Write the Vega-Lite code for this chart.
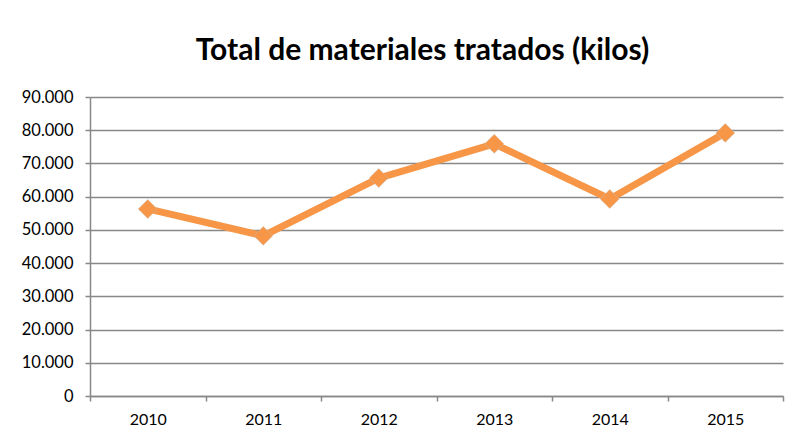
{
  "$schema": "https://vega.github.io/schema/vega-lite/v6.json",
  "width": 693,
  "height": 299,
  "autosize": {"type": "none"},
  "padding": {"left": 90, "top": 97, "right": 13, "bottom": 41},
  "background": "white",
  "config": {
    "locale": {"number": {"decimal": ",", "thousands": ".", "grouping": [3], "currency": ["", " €"]}},
    "view": {"stroke": null},
    "font": "Lato"
  },
  "title": {
    "text": "Total de materiales tratados (kilos)",
    "font": "Lato",
    "fontSize": 30,
    "fontWeight": "bold",
    "color": "#000000",
    "anchor": "middle",
    "dx": -14,
    "offset": 23
  },
  "data": {
    "values": [
      {"year": "2010", "kilos": 56300},
      {"year": "2011", "kilos": 48200},
      {"year": "2012", "kilos": 65600},
      {"year": "2013", "kilos": 75900},
      {"year": "2014", "kilos": 59300},
      {"year": "2015", "kilos": 79200}
    ]
  },
  "encoding": {
    "x": {
      "field": "year",
      "type": "ordinal",
      "scale": {"type": "band", "paddingInner": 0, "paddingOuter": 0},
      "axis": {
        "title": null,
        "labelAngle": 0,
        "tickBand": "extent",
        "labelFont": "Lato",
        "labelFontSize": 16,
        "labelColor": "#000000",
        "labelPadding": 10,
        "tickSize": 5,
        "tickColor": "#888888",
        "tickWidth": 1.5,
        "domainColor": "#888888",
        "domainWidth": 1.5,
        "grid": false
      }
    },
    "y": {
      "field": "kilos",
      "type": "quantitative",
      "scale": {"domain": [0, 90000], "nice": false},
      "axis": {
        "title": null,
        "values": [0, 10000, 20000, 30000, 40000, 50000, 60000, 70000, 80000, 90000],
        "format": ",d",
        "labelFont": "Lato",
        "labelFontSize": 16.5,
        "labelColor": "#000000",
        "labelPadding": 12,
        "tickSize": 5,
        "tickColor": "#888888",
        "tickWidth": 1.5,
        "domainColor": "#888888",
        "domainWidth": 1.5,
        "grid": true,
        "gridColor": "#888888",
        "gridWidth": 1.5
      }
    }
  },
  "layer": [
    {
      "mark": {"type": "line", "color": "#F79646", "strokeWidth": 7, "strokeJoin": "round"}
    },
    {
      "mark": {"type": "point", "shape": "diamond", "filled": true, "color": "#F79646", "opacity": 1, "size": 360, "stroke": "#c9c0b8", "strokeWidth": 0.6, "strokeOpacity": 0.8}
    }
  ]
}
